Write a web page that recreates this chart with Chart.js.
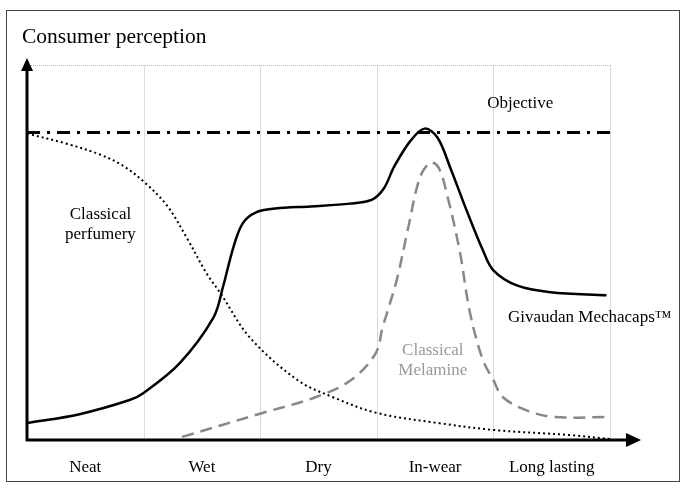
<!DOCTYPE html>
<html>
<head>
<meta charset="utf-8">
<script src="https://cdn.jsdelivr.net/npm/chart.js@4.4.1/dist/chart.umd.min.js"></script>
<style>
  html, body { margin: 0; padding: 0; background: #fff; }
  canvas { display: block; }
</style>
</head>
<body>
<canvas id="canvas" width="686" height="488"></canvas>
<script>
// Stages along the x axis (one unit per stage)
const categories = ['Neat', 'Wet', 'Dry', 'In-wear', 'Long lasting'];

// Givaudan Mechacaps (solid black)
const mechacapsX = [0, 0.45, 0.88, 1.0, 1.31, 1.6, 1.68, 1.77, 1.85, 1.96, 2.13, 2.43, 2.77, 2.96, 3.06, 3.15, 3.29, 3.41, 3.52, 3.63, 3.77, 3.91, 4.0, 4.2, 4.49, 4.97];
const mechacapsY = [5.5, 8.4, 13, 15.3, 25, 39.9, 49.7, 62.7, 70.5, 74, 75.3, 76, 76.9, 78.2, 81.8, 89, 97.4, 101.3, 98.4, 88.6, 74.7, 61.7, 55.2, 50.3, 48.1, 47.1];

// Classical melamine (grey dashed)
const melamineX = [1.33, 2.02, 2.48, 2.78, 2.99, 3.05, 3.17, 3.27, 3.37, 3.46, 3.53, 3.6, 3.71, 3.8, 3.91, 4.0, 4.08, 4.28, 4.51, 5.0];
const melamineY = [1, 8.8, 14, 19.5, 28.2, 36.7, 51.9, 69.2, 85.4, 90.3, 88.6, 80.2, 61.7, 41.2, 26, 19.5, 14, 9.7, 7.5, 7.5];

// Classical perfumery (black dotted)
const perfumeryX = [0, 0.34, 0.63, 0.82, 1.0, 1.2, 1.37, 1.54, 1.66, 1.91, 2.32, 2.62, 3.0, 3.53, 4.02, 4.66, 5.0];
const perfumeryY = [99.7, 96.4, 92.8, 89.3, 84.1, 76.3, 65.8, 54.2, 47.7, 33.4, 19.5, 14, 8.8, 5.5, 3.2, 1.6, 0.3];

// Objective level
const objectiveX = [0, 5];
const objectiveY = [100, 100];

const yMax = 122;
const serif = '"Liberation Serif", "Times New Roman", serif';

function toPoints(xs, ys) {
    return xs.map((v, i) => ({ x: v, y: ys[i] }));
}

// Grid, axes with arrows and the texts
const decor = {
    id: 'decor',
    beforeDatasetsDraw(chart) {
        const { ctx, scales: { x, y } } = chart;
        const top = Math.round(y.getPixelForValue(yMax)) + 0.5;
        const bottom = y.getPixelForValue(0);
        ctx.save();
        ctx.strokeStyle = '#b8b8b8';
        ctx.lineWidth = 1;
        ctx.setLineDash([1, 1]);
        for (let i = 1; i <= categories.length; i++) {
            const px = Math.round(x.getPixelForValue(i)) + 0.5;
            ctx.beginPath();
            ctx.moveTo(px, top);
            ctx.lineTo(px, bottom);
            ctx.stroke();
        }
        ctx.beginPath();
        ctx.moveTo(x.getPixelForValue(0), top);
        ctx.lineTo(x.getPixelForValue(5), top);
        ctx.stroke();
        ctx.restore();
    },
    afterDatasetsDraw(chart) {
        const { ctx, scales: { x, y } } = chart;
        const x0 = x.getPixelForValue(0);
        const y0 = y.getPixelForValue(0);
        ctx.save();

        // outer frame
        ctx.strokeStyle = '#444';
        ctx.lineWidth = 1;
        ctx.strokeRect(6.5, 10.5, 673, 471);

        // axes
        ctx.strokeStyle = '#000';
        ctx.fillStyle = '#000';
        ctx.lineWidth = 3;
        ctx.beginPath();
        ctx.moveTo(x0, y0 + 1);
        ctx.lineTo(x0, 68);
        ctx.moveTo(x0 - 1, y0);
        ctx.lineTo(628, y0);
        ctx.stroke();
        ctx.beginPath();
        ctx.moveTo(x0, 58);
        ctx.lineTo(x0 - 6, 71);
        ctx.lineTo(x0 + 6, 71);
        ctx.closePath();
        ctx.fill();
        ctx.beginPath();
        ctx.moveTo(641, y0);
        ctx.lineTo(626, y0 - 7);
        ctx.lineTo(626, y0 + 7);
        ctx.closePath();
        ctx.fill();

        // title
        ctx.font = '21.5px ' + serif;
        ctx.textAlign = 'left';
        ctx.textBaseline = 'alphabetic';
        ctx.fillText('Consumer perception', 22, 43);

        // stage labels
        ctx.font = '17px ' + serif;
        ctx.textAlign = 'center';
        categories.forEach((c, i) => {
            ctx.fillText(c, x.getPixelForValue(i + 0.5), y0 + 32);
        });

        // curve labels
        ctx.fillText('Objective', x.getPixelForValue(4.23), y.getPixelForValue(108));
        ctx.fillText('Classical', x.getPixelForValue(0.63), y.getPixelForValue(72));
        ctx.fillText('perfumery', x.getPixelForValue(0.63), y.getPixelForValue(65.3));
        ctx.textAlign = 'left';
        ctx.fillText('Givaudan Mechacaps\u2122', x.getPixelForValue(4.125), y.getPixelForValue(38.3));
        ctx.textAlign = 'center';
        ctx.fillStyle = '#999';
        ctx.fillText('Classical', x.getPixelForValue(3.48), y.getPixelForValue(27.6));
        ctx.fillText('Melamine', x.getPixelForValue(3.48), y.getPixelForValue(21.1));
        ctx.restore();
    }
};

const config = {
    type: 'line',
    data: {
        datasets: [
            {
                label: 'Objective',
                data: toPoints(objectiveX, objectiveY),
                borderColor: '#000',
                borderWidth: 3,
                borderDash: [13, 7, 3, 7],
                tension: 0
            },
            {
                label: 'Classical perfumery',
                data: toPoints(perfumeryX, perfumeryY),
                borderColor: '#000',
                borderWidth: 2,
                borderDash: [2, 3]
            },
            {
                label: 'Classical Melamine',
                data: toPoints(melamineX, melamineY),
                borderColor: '#888',
                borderWidth: 2.5,
                borderDash: [12, 7]
            },
            {
                label: 'Givaudan Mechacaps',
                data: toPoints(mechacapsX, mechacapsY),
                borderColor: '#000',
                borderWidth: 2.5
            }
        ]
    },
    options: {
        responsive: false,
        animation: false,
        devicePixelRatio: 1,
        layout: { padding: { left: 27, right: 76, top: 65, bottom: 48 } },
        elements: {
            point: { radius: 0 },
            line: { tension: 0.35, fill: false }
        },
        clip: false,
        plugins: {
            legend: { display: false },
            tooltip: { enabled: false }
        },
        scales: {
            x: { type: 'linear', min: 0, max: 5, display: false },
            y: { min: 0, max: yMax, display: false }
        }
    },
    plugins: [decor]
};

new Chart('canvas', config);
</script>
</body>
</html>
